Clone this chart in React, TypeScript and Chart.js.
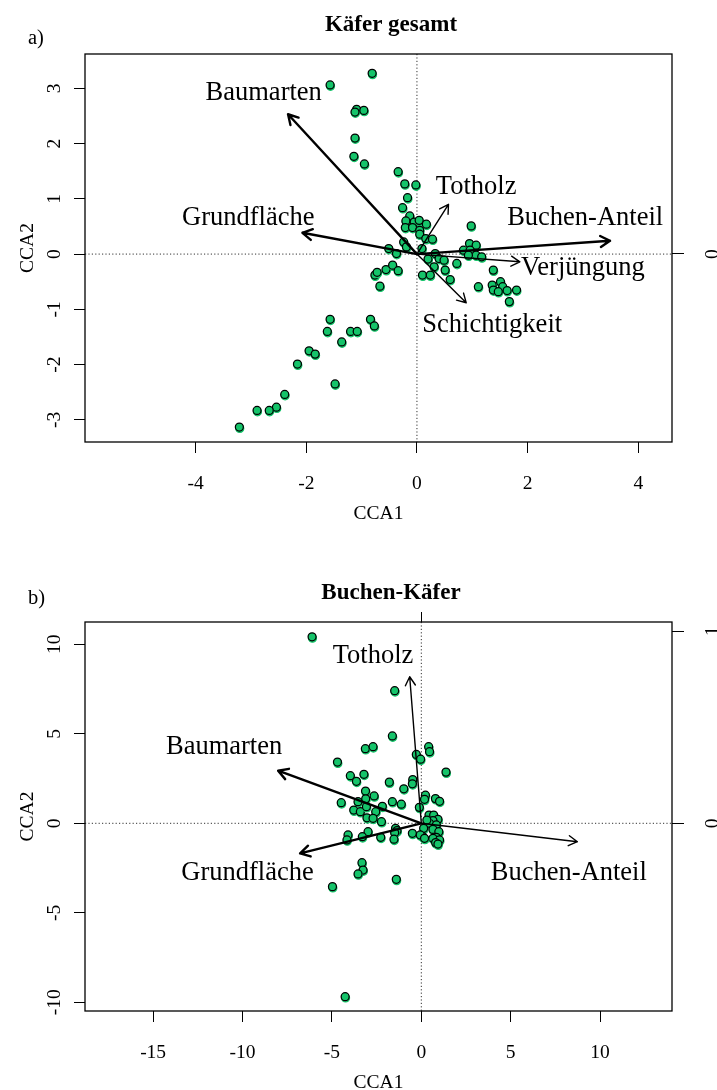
import React, { useEffect, useRef } from "react";
import { Chart, registerables } from "chart.js";

Chart.register(...registerables);

const SERIF = '"Liberation Serif", "Times New Roman", Times, serif';
const SITE_FILL = "#15c46a";
const W = 717;

// Plot-area frame shared by both panels (canvas pixels)
const AREA_LEFT = 85;
const AREA_RIGHT = 672;
const AREA_TOP = 54;

// ---------- a) Käfer gesamt ----------
const sitesA: number[][] = [
  [-1.57, 3.06], [-0.81, 3.27], [-1.09, 2.62], [-1.12, 2.57], [-0.96, 2.6],
  [-1.12, 2.1], [-1.14, 1.77], [-0.95, 1.63], [-0.34, 1.49], [-0.22, 1.27],
  [-0.02, 1.25], [-0.17, 1.02], [-0.26, 0.84], [-0.13, 0.69], [-0.2, 0.6],
  [-0.05, 0.58], [0.04, 0.61], [0.17, 0.54], [-0.21, 0.48], [-0.08, 0.48],
  [0.05, 0.43], [0.05, 0.36], [0.16, 0.28], [0.28, 0.27], [0.09, 0.1],
  [-0.24, 0.22], [-0.19, 0.13], [-0.51, 0.1], [-0.37, 0.01],
  [0.2, -0.09], [0.33, 0.01], [0.4, -0.08], [0.49, -0.11], [0.31, -0.23],
  [0.51, -0.29], [0.72, -0.17], [0.1, -0.38], [0.24, -0.38], [0.6, -0.46],
  [0.98, 0.51], [0.84, 0.07], [0.95, 0.19], [1.07, 0.16], [0.96, 0.07],
  [1.07, -0.02], [1.17, -0.05], [0.93, -0.02], [1.38, -0.29], [1.11, -0.59],
  [1.36, -0.56], [1.51, -0.5], [1.55, -0.59], [1.38, -0.65], [1.47, -0.68],
  [1.63, -0.66], [1.8, -0.65], [1.67, -0.86],
  [-0.76, -0.38], [-0.67, -0.58], [-0.72, -0.33], [-0.56, -0.28], [-0.44, -0.2],
  [-0.34, -0.3],
  [-1.57, -1.18], [-1.62, -1.4], [-0.84, -1.18], [-0.77, -1.3], [-1.2, -1.4],
  [-1.08, -1.4], [-1.36, -1.59], [-1.95, -1.75], [-1.84, -1.81], [-2.16, -1.99],
  [-1.48, -2.35], [-2.39, -2.54], [-2.54, -2.77], [-2.67, -2.83], [-2.89, -2.83],
  [-3.21, -3.13],
];
const envNamesA = ["Baumarten", "Grundfläche", "Buchen-Anteil", "Verjüngung", "Totholz", "Schichtigkeit"];
const envXA = [-2.33, -2.07, 3.49, 1.86, 0.57, 0.89];
const envYA = [2.53, 0.385, 0.24, -0.14, 0.9, -0.88];
const envHeavyA = [true, true, true, false, false, false];
const envLabelXA = [-2.77, -3.05, 3.04, 3.0, 1.07, 1.36];
const envLabelYA = [2.78, 0.52, 0.52, -0.38, 1.08, -1.41];
const xTicksA = [-4, -2, 0, 2, 4];
const yTicksA = [-3, -2, -1, 0, 1, 2, 3];
const rightTicksA = [0];
const xLimA = [-6.0, 4.61];
const yLimA = [-3.4, 3.62];
const rightLimA = [-0.94, 1.0];

// ---------- b) Buchen-Käfer ----------
const sitesB: number[][] = [
  [-6.11, 10.42], [-1.49, 7.41], [-1.62, 4.88], [-3.13, 4.17], [-2.7, 4.28],
  [-4.69, 3.42], [0.41, 4.28], [0.46, 4.0], [-0.28, 3.85], [-0.04, 3.58],
  [1.38, 2.86], [-3.97, 2.66], [-3.21, 2.74], [-3.63, 2.35], [-1.79, 2.3],
  [-0.48, 2.44], [-0.5, 2.21], [-0.98, 1.93], [-3.12, 1.8], [-2.64, 1.53],
  [-3.11, 1.37], [-3.54, 1.21], [0.23, 1.57], [0.18, 1.34], [0.79, 1.38],
  [1.02, 1.23], [-4.48, 1.15], [-1.62, 1.21], [-1.12, 1.07], [-2.18, 0.95],
  [-0.11, 0.89], [-3.78, 0.74], [-3.41, 0.65], [-3.07, 0.93], [-2.55, 0.65],
  [-3.04, 0.31], [-2.7, 0.28], [-2.23, 0.09], [0.43, 0.46], [0.69, 0.46],
  [0.93, 0.22], [0.65, 0.15], [0.46, 0.0], [0.84, -0.09], [0.31, 0.18],
  [-1.44, -0.28], [-1.36, -0.41], [-1.49, -0.53], [-0.5, -0.56], [0.13, -0.28],
  [0.09, -0.75], [-0.06, -0.65], [0.65, -0.34], [0.98, -0.47], [0.84, -0.78],
  [0.65, -0.84], [1.02, -0.93], [0.8, -1.08], [0.93, -1.16], [0.18, -0.84],
  [-2.98, -0.47], [-4.1, -0.65], [-4.16, -0.93], [-3.3, -0.75], [-2.27, -0.78],
  [-1.53, -0.89], [-3.32, -2.2], [-3.26, -2.61], [-3.54, -2.83], [-1.4, -3.13],
  [-4.97, -3.54], [-4.26, -9.69],
];
const envNamesB = ["Totholz", "Baumarten", "Grundfläche", "Buchen-Anteil"];
const envXB = [-0.65, -8.01, -6.78, 8.73];
const envYB = [8.19, 2.94, -1.68, -1.03];
const envHeavyB = [false, true, true, false];
const envLabelXB = [-2.7, -11.03, -9.72, 8.25];
const envLabelYB = [8.97, 3.87, -3.17, -3.17];
const xTicksB = [-15, -10, -5, 0, 5, 10];
const yTicksB = [-10, -5, 0, 5, 10];
const rightTicksB = [0, 1];
const topTicksB = [0];
const xLimB = [-18.81, 14.02];
const yLimB = [-10.49, 11.25];
const rightLimB = [-0.976, 1.047];

type PanelSpec = {
  letter: string;
  letterBaseline: number;
  title: string;
  height: number;
  areaBottom: number;
  sites: number[][];
  envNames: string[];
  envX: number[];
  envY: number[];
  envHeavy: boolean[];
  envLabelX: number[];
  envLabelY: number[];
  xTicks: number[];
  yTicks: number[];
  rightTicks: number[];
  topTicks: number[] | null;
  xLim: number[];
  yLim: number[];
  rightLim: number[];
};

const panelA: PanelSpec = {
  letter: "a)", letterBaseline: 44, title: "Käfer gesamt", height: 568, areaBottom: 442,
  sites: sitesA, envNames: envNamesA, envX: envXA, envY: envYA, envHeavy: envHeavyA,
  envLabelX: envLabelXA, envLabelY: envLabelYA,
  xTicks: xTicksA, yTicks: yTicksA, rightTicks: rightTicksA, topTicks: null,
  xLim: xLimA, yLim: yLimA, rightLim: rightLimA,
};

const panelB: PanelSpec = {
  letter: "b)", letterBaseline: 36, title: "Buchen-Käfer", height: 522, areaBottom: 443,
  sites: sitesB, envNames: envNamesB, envX: envXB, envY: envYB, envHeavy: envHeavyB,
  envLabelX: envLabelXB, envLabelY: envLabelYB,
  xTicks: xTicksB, yTicks: yTicksB, rightTicks: rightTicksB, topTicks: topTicksB,
  xLim: xLimB, yLim: yLimB, rightLim: rightLimB,
};

const TICK_LEN = 11;
const TOP_TICK_SPACE = 10;

const tickGrid = {
  drawOnChartArea: false,
  drawTicks: true,
  tickLength: TICK_LEN,
  color: "#000",
  lineWidth: 1,
};

function fixedTicks(values: number[]) {
  return (scale: any) => {
    scale.ticks = values.map((v) => ({ value: v }));
  };
}

function drawRotated(ctx: CanvasRenderingContext2D, s: string, x: number, y: number) {
  ctx.save();
  ctx.translate(x, y);
  ctx.rotate(-Math.PI / 2);
  ctx.textAlign = "center";
  ctx.textBaseline = "alphabetic";
  ctx.fillText(s, 0, 0);
  ctx.restore();
}

function drawArrow(ctx: CanvasRenderingContext2D, x0: number, y0: number, x1: number, y1: number, heavy: boolean) {
  const ang = Math.atan2(y1 - y0, x1 - x0);
  const head = heavy ? 11 : 10;
  const spread = Math.PI / 6;
  ctx.save();
  ctx.strokeStyle = "#000";
  ctx.lineWidth = heavy ? 2.4 : 1.4;
  ctx.lineCap = "round";
  ctx.lineJoin = "round";
  ctx.beginPath();
  ctx.moveTo(x0, y0);
  ctx.lineTo(x1, y1);
  ctx.moveTo(x1 - head * Math.cos(ang - spread), y1 - head * Math.sin(ang - spread));
  ctx.lineTo(x1, y1);
  ctx.lineTo(x1 - head * Math.cos(ang + spread), y1 - head * Math.sin(ang + spread));
  ctx.stroke();
  ctx.restore();
}

function ordinationPlugin(p: PanelSpec) {
  return {
    id: "ordination",
    beforeDatasetsDraw(chart: any) {
      const { ctx, chartArea: a, scales } = chart;
      const x0 = scales.x.getPixelForValue(0);
      const y0 = scales.y.getPixelForValue(0);
      ctx.save();
      ctx.strokeStyle = "#333";
      ctx.lineWidth = 1;
      ctx.setLineDash([1.2, 2.2]);
      ctx.beginPath();
      ctx.moveTo(a.left, y0);
      ctx.lineTo(a.right, y0);
      ctx.moveTo(x0, a.top);
      ctx.lineTo(x0, a.bottom);
      ctx.stroke();
      ctx.restore();
      // slight green under-shadow on the site symbols
      ctx.save();
      ctx.shadowColor = SITE_FILL;
      ctx.shadowOffsetX = 0.4;
      ctx.shadowOffsetY = 1.3;
      ctx.shadowBlur = 0;
    },
    afterDatasetsDraw(chart: any) {
      const { ctx, chartArea: a, scales } = chart;
      ctx.restore();
      const ox = scales.x.getPixelForValue(0);
      const oy = scales.y.getPixelForValue(0);
      p.envNames.forEach((name, i) => {
        const hx = scales.x.getPixelForValue(p.envX[i]);
        const hy = scales.y.getPixelForValue(p.envY[i]);
        drawArrow(ctx, ox, oy, hx, hy, p.envHeavy[i]);
        ctx.save();
        ctx.fillStyle = "#000";
        ctx.font = `26.5px ${SERIF}`;
        ctx.textAlign = "center";
        ctx.textBaseline = "alphabetic";
        ctx.fillText(name, scales.x.getPixelForValue(p.envLabelX[i]), scales.y.getPixelForValue(p.envLabelY[i]));
        ctx.restore();
      });
      // plot frame
      ctx.save();
      ctx.strokeStyle = "#000";
      ctx.lineWidth = 1.3;
      ctx.strokeRect(a.left, a.top, a.right - a.left, a.bottom - a.top);
      ctx.restore();
    },
    afterDraw(chart: any) {
      const { ctx, chartArea: a, scales } = chart;
      ctx.save();
      ctx.fillStyle = "#000";
      ctx.font = `19.5px ${SERIF}`;
      ctx.textAlign = "center";
      ctx.textBaseline = "alphabetic";
      scales.x.ticks.forEach((t: any) => {
        ctx.fillText(String(t.value), scales.x.getPixelForValue(t.value), a.bottom + 47);
      });
      ctx.fillText("CCA1", (a.left + a.right) / 2, a.bottom + 76.5);
      scales.y.ticks.forEach((t: any) => {
        drawRotated(ctx, String(t.value), 60, scales.y.getPixelForValue(t.value));
      });
      drawRotated(ctx, "CCA2", 33, (a.top + a.bottom) / 2);
      scales.y2.ticks.forEach((t: any) => {
        drawRotated(ctx, String(t.value), 718, scales.y2.getPixelForValue(t.value));
      });
      ctx.textAlign = "left";
      ctx.font = `20.5px ${SERIF}`;
      ctx.fillText(p.letter, 28, p.letterBaseline);
      ctx.textAlign = "center";
      ctx.font = `bold 23px ${SERIF}`;
      ctx.fillText(p.title, 391, 31);
      ctx.restore();
    },
  };
}

function buildConfig(p: PanelSpec): any {
  const scales: any = {
    x: {
      type: "linear",
      position: "bottom",
      min: p.xLim[0],
      max: p.xLim[1],
      afterBuildTicks: fixedTicks(p.xTicks),
      afterFit: (s: any) => {
        s.height = p.height - p.areaBottom;
      },
      grid: tickGrid,
      border: { display: false },
      ticks: { display: false },
    },
    y: {
      type: "linear",
      position: "left",
      min: p.yLim[0],
      max: p.yLim[1],
      afterBuildTicks: fixedTicks(p.yTicks),
      afterFit: (s: any) => {
        s.width = AREA_LEFT;
      },
      grid: tickGrid,
      border: { display: false },
      ticks: { display: false },
    },
    y2: {
      type: "linear",
      position: "right",
      min: p.rightLim[0],
      max: p.rightLim[1],
      afterBuildTicks: fixedTicks(p.rightTicks),
      afterFit: (s: any) => {
        s.width = W - AREA_RIGHT;
      },
      grid: { ...tickGrid, tickLength: 12 },
      border: { display: false },
      ticks: { display: false },
    },
  };
  if (p.topTicks) {
    scales.x2 = {
      type: "linear",
      position: "top",
      min: p.xLim[0],
      max: p.xLim[1],
      afterBuildTicks: fixedTicks(p.topTicks),
      afterFit: (s: any) => {
        s.height = TOP_TICK_SPACE;
      },
      grid: { ...tickGrid, tickLength: TOP_TICK_SPACE },
      border: { display: false },
      ticks: { display: false },
    };
  }
  return {
    type: "scatter",
    data: {
      datasets: [
        {
          data: p.sites.map(([x, y]) => ({ x, y })),
          backgroundColor: SITE_FILL,
          borderColor: "#000",
          pointRadius: 4.0,
          pointBorderWidth: 1.25,
          xAxisID: "x",
          yAxisID: "y",
        },
      ],
    },
    options: {
      responsive: false,
      animation: false,
      devicePixelRatio: 1,
      events: [],
      layout: {
        padding: {
          top: AREA_TOP - (p.topTicks ? TOP_TICK_SPACE : 0),
          left: 0,
          right: 0,
          bottom: 0,
        },
      },
      plugins: {
        legend: { display: false },
        tooltip: { enabled: false },
        title: { display: false },
      },
      scales,
    },
    plugins: [ordinationPlugin(p)],
  };
}

function OrdinationPanel({ spec, top }: { spec: PanelSpec; top: number }) {
  const ref = useRef<HTMLCanvasElement>(null);
  useEffect(() => {
    if (!ref.current) return;
    const chart = new Chart(ref.current, buildConfig(spec));
    return () => chart.destroy();
  }, [spec]);
  return (
    <canvas
      ref={ref}
      width={W}
      height={spec.height}
      style={{ position: "absolute", left: 0, top, width: W, height: spec.height, display: "block" }}
    />
  );
}

export default function App() {
  return (
    <div
      style={{
        position: "absolute",
        left: 0,
        top: 0,
        width: W,
        height: 1090,
        background: "#fff",
        overflow: "hidden",
      }}
    >
      <OrdinationPanel spec={panelA} top={0} />
      <OrdinationPanel spec={panelB} top={568} />
    </div>
  );
}
